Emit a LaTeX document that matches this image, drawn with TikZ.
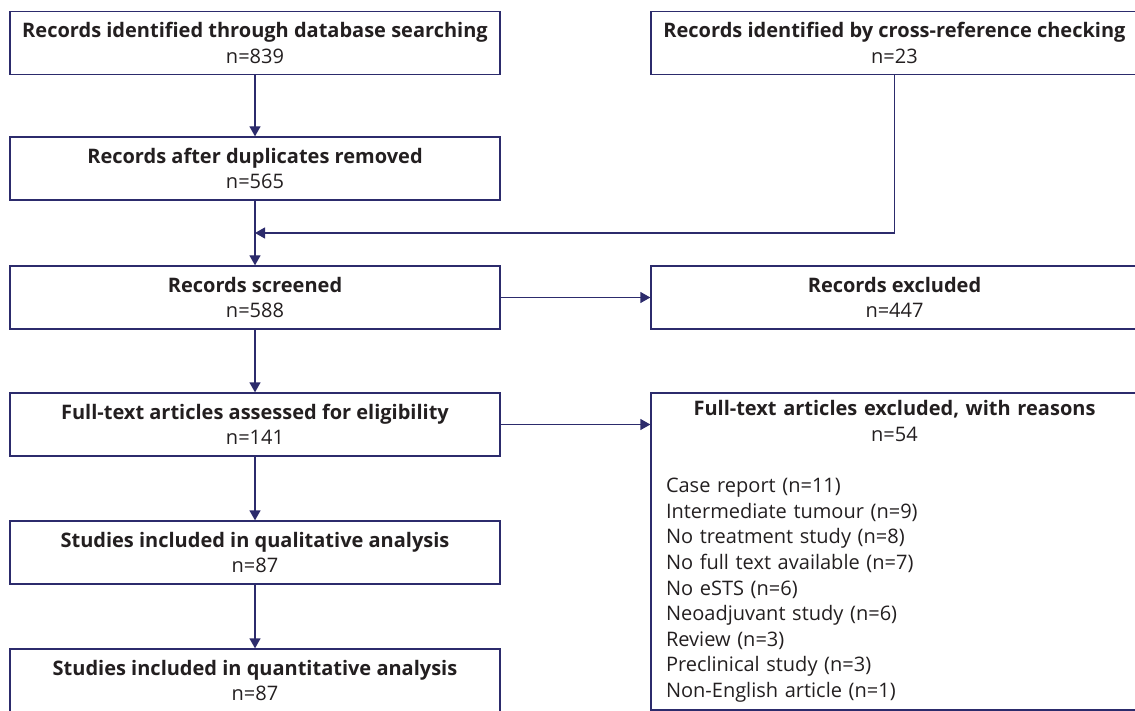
\documentclass[tikz,border=0pt]{standalone}
\usepackage{fontspec}
\setmainfont{Open Sans}
\usetikzlibrary{arrows.meta,positioning}
\definecolor{navy}{RGB}{44,43,108}
\definecolor{ink}{RGB}{35,31,32}

\begin{document}
\begin{tikzpicture}[x=1pt,y=1pt,>={Triangle[length=10pt,width=11pt]},
  font=\fontsize{20}{25.6}\selectfont,text=ink]
  \tikzstyle{box}=[draw=navy,line width=1.3pt,align=center,minimum height=63pt,inner sep=0pt]
  \tikzstyle{lbox}=[box,minimum width=490pt]
  \tikzstyle{rbox}=[box,minimum width=487pt]
  \tikzstyle{arr}=[->,draw=navy,line width=1.3pt]

  \useasboundingbox (0,0) rectangle (1135,-711);

  % left column
  \node[lbox] (A) at (255,-43)    {\textbf{Records identified through database searching}\\n=839};
  \node[lbox] (B) at (255,-168.5) {\textbf{Records after duplicates removed}\\n=565};
  \node[lbox] (C) at (255,-297.5) {\textbf{Records screened}\\n=588};
  \node[lbox] (D) at (255,-424.5) {\textbf{Full-text articles assessed for eligibility}\\n=141};
  \node[lbox] (E) at (255,-552.5) {\textbf{Studies included in qualitative analysis}\\n=87};
  \node[lbox] (F) at (255,-680.5) {\textbf{Studies included in quantitative analysis}\\n=87};

  % right column
  \node[rbox] (G) at (894.5,-43)    {\textbf{Records identified by cross-reference checking}\\n=23};
  \node[rbox] (H) at (894.5,-297.5) {\textbf{Records excluded}\\n=447};
  \node[rbox,minimum height=317pt,text width=457pt,align=left] (I) at (894.5,-551.5)
    {{\centering\textbf{Full-text articles excluded, with reasons}\\n=54\par}
     \vspace{25.6pt}
     Case report (n=11)\\
     Intermediate tumour (n=9)\\
     No treatment study (n=8)\\
     No full text available (n=7)\\
     No eSTS (n=6)\\
     Neoadjuvant study (n=6)\\
     Review (n=3)\\
     Preclinical study (n=3)\\
     Non-English article (n=1)};

  \coordinate (M) at (255,-233);

  \draw[arr] (A) -- (B);
  \draw[arr] (B) -- (C);
  \draw[arr] (G.south) |- (M);
  \draw[arr] (C) -- (D);
  \draw[arr] (D) -- (E);
  \draw[arr] (E) -- (F);
  \draw[arr] (C) -- (H);
  \draw[arr] (D.east) -- (D.east -| I.west);
\end{tikzpicture}
\end{document}
